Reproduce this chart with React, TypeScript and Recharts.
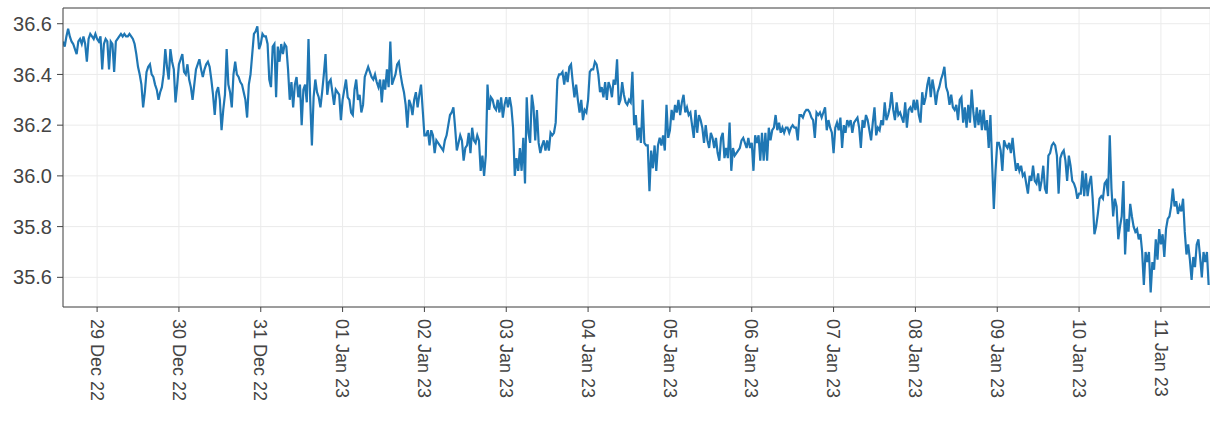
import React from 'react';
import { CartesianGrid, Line, LineChart, ReferenceLine, XAxis, YAxis } from 'recharts';

// half-hourly readings, one array per day; the first day starts at 14:00
const dec28 = [
  36.53, 36.51, 36.55, 36.58, 36.55, 36.53, 36.52, 36.5, 36.48, 36.53, 36.54, 36.52,
  36.55, 36.52, 36.45, 36.54, 36.56, 36.55, 36.54, 36.56,
];
const dec29 = [
  36.54, 36.53, 36.55, 36.42, 36.52, 36.54, 36.53, 36.42, 36.53, 36.52, 36.41, 36.53,
  36.54, 36.55, 36.56, 36.55, 36.56, 36.55, 36.55, 36.56, 36.55, 36.54, 36.52, 36.48,
  36.43, 36.4, 36.36, 36.27, 36.33, 36.41, 36.43, 36.44, 36.4, 36.39, 36.36, 36.34,
  36.3, 36.33, 36.35, 36.4, 36.5, 36.43, 36.38, 36.5, 36.45, 36.42, 36.29, 36.36,
];
const dec30 = [
  36.44, 36.46, 36.48, 36.41, 36.4, 36.44, 36.38, 36.35, 36.3, 36.36, 36.42, 36.44,
  36.46, 36.42, 36.39, 36.42, 36.44, 36.45, 36.43, 36.38, 36.32, 36.24, 36.33, 36.35,
  36.3, 36.18, 36.26, 36.32, 36.5, 36.36, 36.33, 36.27, 36.4, 36.45, 36.4, 36.39,
  36.37, 36.36, 36.33, 36.3, 36.23, 36.36, 36.4, 36.48, 36.56, 36.57, 36.59, 36.5,
];
const dec31 = [
  36.52, 36.56, 36.55, 36.55, 36.52, 36.38, 36.35, 36.51, 36.52, 36.31, 36.51, 36.45,
  36.52, 36.48, 36.52, 36.51, 36.42, 36.3, 36.37, 36.27, 36.36, 36.39, 36.31, 36.36,
  36.2, 36.34, 36.36, 36.29, 36.54, 36.3, 36.12, 36.31, 36.38, 36.33, 36.31, 36.27,
  36.33, 36.4, 36.48, 36.32, 36.37, 36.38, 36.33, 36.28, 36.34, 36.33, 36.32, 36.22,
];
const jan01 = [
  36.3, 36.34, 36.38, 36.31, 36.3, 36.25, 36.24, 36.34, 36.38, 36.3, 36.32, 36.25,
  36.28, 36.39, 36.41, 36.43, 36.41, 36.39, 36.38, 36.4, 36.37, 36.35, 36.38, 36.29,
  36.38, 36.34, 36.42, 36.35, 36.53, 36.36, 36.38, 36.4, 36.44, 36.45, 36.4, 36.36,
  36.33, 36.28, 36.19, 36.3, 36.28, 36.24, 36.3, 36.33, 36.27, 36.32, 36.36, 36.26,
];
const jan02 = [
  36.16, 36.16, 36.18, 36.12, 36.18, 36.16, 36.09, 36.14, 36.13, 36.12, 36.11, 36.1,
  36.14, 36.16, 36.2, 36.24, 36.25, 36.27, 36.19, 36.1, 36.13, 36.16, 36.14, 36.06,
  36.11, 36.12, 36.17, 36.09, 36.19, 36.14, 36.13, 36.16, 36.14, 36.02, 36.08, 36.0,
  36.08, 36.36, 36.26, 36.31, 36.3, 36.27, 36.26, 36.3, 36.25, 36.31, 36.23, 36.28,
];
const jan03 = [
  36.31, 36.27, 36.31, 36.27, 36.19, 36.0, 36.07, 36.02, 36.11, 36.02, 36.15, 35.97,
  36.31, 36.17, 36.13, 36.32, 36.27, 36.14, 36.26, 36.13, 36.09, 36.12, 36.14, 36.1,
  36.14, 36.1, 36.17, 36.16, 36.17, 36.21, 36.38, 36.4, 36.4, 36.41, 36.36, 36.41,
  36.37, 36.43, 36.44, 36.37, 36.31, 36.36, 36.3, 36.25, 36.3, 36.22, 36.26, 36.25,
];
const jan04 = [
  36.3, 36.41, 36.42, 36.42, 36.45, 36.44, 36.4, 36.33, 36.35, 36.31, 36.37, 36.3,
  36.37, 36.35, 36.31, 36.38, 36.36, 36.46, 36.28, 36.3, 36.37, 36.32, 36.29, 36.28,
  36.3, 36.29, 36.41, 36.2, 36.24, 36.14, 36.19, 36.13, 36.3, 36.13, 36.12, 36.12,
  35.94, 36.1, 36.03, 36.12, 36.02, 36.12, 36.15, 36.12, 36.16, 36.1, 36.28, 36.15,
];
const jan05 = [
  36.18, 36.26, 36.22, 36.28, 36.25, 36.3, 36.24, 36.29, 36.32, 36.25, 36.27, 36.24,
  36.25, 36.2, 36.15, 36.26, 36.17, 36.24, 36.22, 36.19, 36.13, 36.2, 36.14, 36.11,
  36.17, 36.15, 36.11, 36.15, 36.09, 36.06, 36.15, 36.17, 36.07, 36.11, 36.07, 36.21,
  36.02, 36.11, 36.08, 36.09, 36.1, 36.11, 36.14, 36.15, 36.13, 36.11, 36.15, 36.11,
];
const jan06 = [
  36.13, 36.02, 36.16, 36.13, 36.16, 36.06, 36.17, 36.06, 36.17, 36.06, 36.19, 36.14,
  36.18, 36.19, 36.24, 36.18, 36.21, 36.17, 36.19, 36.17, 36.19, 36.19, 36.17, 36.19,
  36.2, 36.19, 36.19, 36.14, 36.24, 36.24, 36.23, 36.25, 36.26, 36.26, 36.25, 36.23,
  36.22, 36.15, 36.25, 36.24, 36.25, 36.23, 36.25, 36.27, 36.18, 36.22, 36.19, 36.17,
];
const jan07 = [
  36.09, 36.19, 36.21, 36.18, 36.23, 36.11, 36.2, 36.17, 36.22, 36.2, 36.22, 36.17,
  36.21, 36.22, 36.23, 36.19, 36.11, 36.22, 36.19, 36.24, 36.22, 36.18, 36.14, 36.21,
  36.27, 36.16, 36.19, 36.18, 36.22, 36.2, 36.29, 36.22, 36.24, 36.27, 36.33, 36.26,
  36.22, 36.29, 36.24, 36.25, 36.23, 36.21, 36.29, 36.19, 36.26, 36.27, 36.25, 36.3,
];
const jan08 = [
  36.26, 36.3, 36.24, 36.21, 36.33, 36.28, 36.31, 36.36, 36.39, 36.31, 36.38, 36.34,
  36.28, 36.33, 36.35, 36.38, 36.4, 36.43, 36.35, 36.33, 36.28, 36.32, 36.27, 36.26,
  36.28, 36.22, 36.3, 36.31, 36.21, 36.27, 36.19, 36.28, 36.21, 36.34, 36.25, 36.19,
  36.27, 36.2, 36.26, 36.18, 36.26, 36.18, 36.22, 36.11, 36.24, 36.05, 35.87, 36.02,
];
const jan09 = [
  36.13, 36.13, 36.1, 36.02, 36.14, 36.12, 36.11, 36.13, 36.09, 36.15, 36.08, 36.02,
  36.05, 36.02, 36.04, 36.0, 36.01, 35.97, 35.93, 36.0, 35.98, 36.04, 35.98, 35.97,
  36.01, 35.94, 35.98, 36.04, 35.95, 35.93, 36.08, 36.09, 36.12, 36.13, 36.12, 36.08,
  35.93, 36.07, 36.09, 36.1, 36.06, 35.98, 36.08, 36.04, 35.98, 35.97, 35.95, 35.91,
];
const jan10 = [
  35.93, 35.93, 36.02, 35.92, 36.01, 35.92, 35.97, 36.0, 35.91, 35.77, 35.8, 35.85,
  35.91, 35.92, 35.91, 35.97, 35.98, 35.92, 36.16, 35.95, 35.84, 35.91, 35.88, 35.75,
  35.8, 35.84, 35.98, 35.69, 35.83, 35.78, 35.89, 35.84, 35.8, 35.78, 35.79, 35.75,
  35.77, 35.7, 35.57, 35.7, 35.66, 35.7, 35.54, 35.66, 35.63, 35.75, 35.67, 35.79,
];
const jan11 = [
  35.73, 35.77, 35.68, 35.79, 35.83, 35.84, 35.88, 35.95, 35.88, 35.9, 35.85, 35.88,
  35.86, 35.91, 35.78, 35.69, 35.73, 35.67, 35.59, 35.68, 35.64, 35.73, 35.75, 35.68,
  35.6, 35.7, 35.66, 35.7, 35.57,
];

const days: [number, number, number, number, number[]][] = [
  [2022, 11, 28, 14, dec28],
  [2022, 11, 29, 0, dec29],
  [2022, 11, 30, 0, dec30],
  [2022, 11, 31, 0, dec31],
  [2023, 0, 1, 0, jan01],
  [2023, 0, 2, 0, jan02],
  [2023, 0, 3, 0, jan03],
  [2023, 0, 4, 0, jan04],
  [2023, 0, 5, 0, jan05],
  [2023, 0, 6, 0, jan06],
  [2023, 0, 7, 0, jan07],
  [2023, 0, 8, 0, jan08],
  [2023, 0, 9, 0, jan09],
  [2023, 0, 10, 0, jan10],
  [2023, 0, 11, 0, jan11],
];

const tickLabels = [
  '29 Dec 22', '30 Dec 22', '31 Dec 22', '01 Jan 23', '02 Jan 23', '03 Jan 23', '04 Jan 23',
  '05 Jan 23', '06 Jan 23', '07 Jan 23', '08 Jan 23', '09 Jan 23', '10 Jan 23', '11 Jan 23',
];
const yTicks = [35.6, 35.8, 36.0, 36.2, 36.4, 36.6];

const HOUR = 3600 * 1000;
const data = days.flatMap(([y, m, d, h0, vals]) =>
  vals.map((value, i) => ({ time: Date.UTC(y, m, d, h0) + i * HOUR * 0.5, value })),
);
const xTicks = tickLabels.map((_, i) => Date.UTC(2022, 11, 29 + i));
const xMin = Date.UTC(2022, 11, 28, 14);
const xMax = xMin + 336.4 * HOUR;
const yMin = 35.483;
const yMax = 36.662;

const font = '"Liberation Sans", Arial, sans-serif';

const DateTick = (props: any) => {
  const { x, y, payload } = props;
  const idx = xTicks.indexOf(payload.value);
  return (
    <g transform={`translate(${x},${y})`}>
      <text
        transform="rotate(90)"
        x={5}
        y={0}
        dy="0.35em"
        textAnchor="start"
        fill="#444"
        fontSize={18}
        fontFamily={font}
      >
        {tickLabels[idx]}
      </text>
    </g>
  );
};

export default function App() {
  return (
    <div style={{ position: 'absolute', left: 0, top: 0, background: '#fff' }}>
      <LineChart width={1210} height={422} data={data} margin={{ top: 8, right: 0, bottom: 0, left: 0 }}>
        <CartesianGrid stroke="#ebebeb" />
        <XAxis
          dataKey="time"
          type="number"
          domain={[xMin, xMax]}
          ticks={xTicks}
          interval={0}
          height={115}
          tick={<DateTick />}
          tickSize={5}
          stroke="#444"
          allowDataOverflow
        />
        <YAxis
          type="number"
          domain={[yMin, yMax]}
          ticks={yTicks}
          interval={0}
          width={63}
          tickSize={6}
          tickMargin={5}
          stroke="#444"
          tick={{ fill: '#444', fontSize: 20, fontFamily: font }}
          tickFormatter={(v: number) => v.toFixed(1)}
          allowDataOverflow
        />
        <ReferenceLine y={yMax} stroke="#444" />
        <Line
          type="linear"
          dataKey="value"
          stroke="#1f77b4"
          strokeWidth={2.2}
          dot={false}
          activeDot={false}
          isAnimationActive={false}
        />
      </LineChart>
    </div>
  );
}
